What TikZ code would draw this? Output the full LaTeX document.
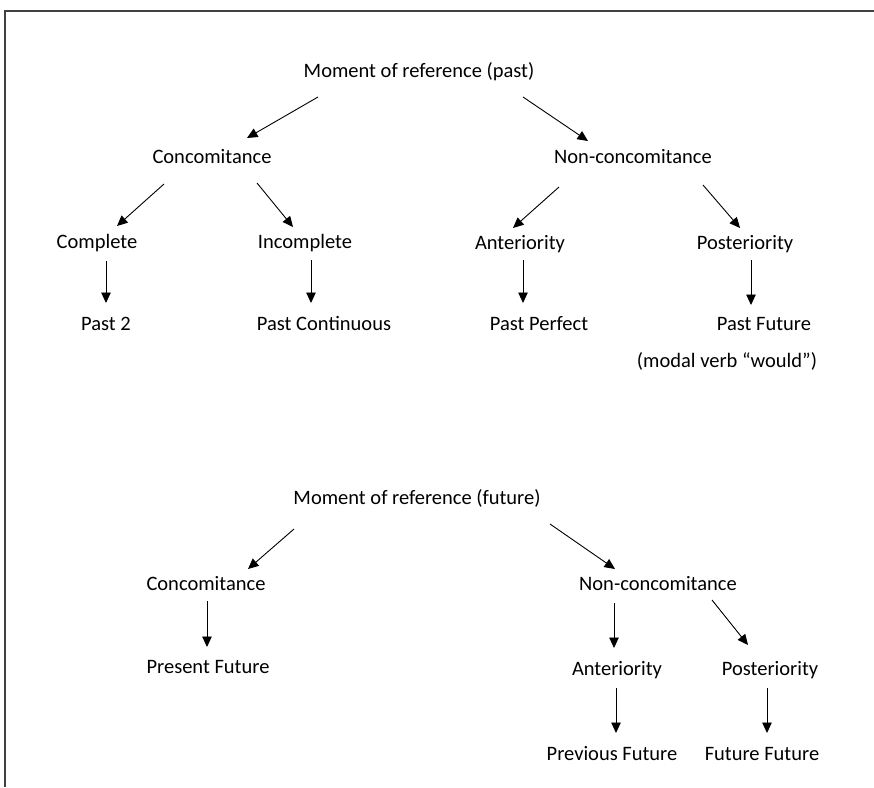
\documentclass[tikz,border=0pt]{standalone}
\usepackage{fontspec}
\setmainfont{Carlito}
\usetikzlibrary{arrows.meta}
\begin{document}
\begin{tikzpicture}[x=1pt,y=-1pt,
  lbl/.style={inner sep=0pt,text height=13.3pt,text depth=0pt,font=\fontsize{20.5}{24}\selectfont,text=black},
  arr/.style={line width=0.9pt,-{Triangle[length=10.5pt,width=9.5pt]}},
  frameline/.style={line width=1.6pt,draw=black!75}]
\useasboundingbox (0,0) rectangle (874,787);
\draw[frameline] (5,787) -- (5,11) -- (874,11);
% top tree
\node[lbl] (m1) at (419,71) {Moment of reference (past)};
\node[lbl] (conc1) at (212,157) {Concomitance};
\node[lbl] (nc1) at (633,157) {Non-concomitance};
\node[lbl] (comp) at (97,242) {Complete};
\node[lbl] (incomp) at (305,242) {Incomplete};
\node[lbl] (ant1) at (520,243) {Anteriority};
\node[lbl] (post1) at (745,243) {Posteriority};
\node[lbl] (past2) at (106,324) {Past 2};
\node[lbl] (pastcont) at (324,324) {Past Continuous};
\node[lbl] (pastperf) at (539,324) {Past Perfect};
\node[lbl] (pastfut) at (764,324) {Past Future};
\node[lbl] (modal) at (727,361) {(modal verb “would”)};
\draw[arr] ([shift={(-101,26)}]m1.center) -- ([shift={(35,-19)}]conc1.center);
\draw[arr] ([shift={(104,26)}]m1.center) -- ([shift={(-45,-16)}]nc1.center);
\draw[arr] ([shift={(-48,27)}]conc1.center) -- ([shift={(20,-16)}]comp.center);
\draw[arr] ([shift={(45,26)}]conc1.center) -- ([shift={(-12,-15)}]incomp.center);
\draw[arr] ([shift={(9,19)}]comp.center) -- ([shift={(0,-21)}]past2.center);
\draw[arr] ([shift={(6,18)}]incomp.center) -- ([shift={(-13,-21)}]pastcont.center);
\draw[arr] ([shift={(-74,30)}]nc1.center) -- ([shift={(-7,-15)}]ant1.center);
\draw[arr] ([shift={(70,28)}]nc1.center) -- ([shift={(-5,-15)}]post1.center);
\draw[arr] ([shift={(3,17)}]ant1.center) -- ([shift={(-16,-21)}]pastperf.center);
\draw[arr] ([shift={(6,17)}]post1.center) -- ([shift={(-13,-19)}]pastfut.center);
% bottom tree
\node[lbl] (m2) at (417,498) {Moment of reference (future)};
\node[lbl] (conc2) at (206,584) {Concomitance};
\node[lbl] (nc2) at (658,584) {Non-concomitance};
\node[lbl] (presfut) at (208,667) {Present Future};
\node[lbl] (ant2) at (617,669) {Anteriority};
\node[lbl] (post2) at (770,669) {Posteriority};
\node[lbl] (prevfut) at (612,754) {Previous Future};
\node[lbl] (futfut) at (762,754) {Future Future};
\draw[arr] ([shift={(-123,31)}]m2.center) -- ([shift={(42,-15)}]conc2.center);
\draw[arr] ([shift={(133,26)}]m2.center) -- ([shift={(-43,-15)}]nc2.center);
\draw[arr] ([shift={(1,17)}]conc2.center) -- ([shift={(-1,-20)}]presfut.center);
\draw[arr] ([shift={(-44,19)}]nc2.center) -- ([shift={(-3,-21)}]ant2.center);
\draw[arr] ([shift={(54,16)}]nc2.center) -- ([shift={(-22,-24)}]post2.center);
\draw[arr] ([shift={(-1,19)}]ant2.center) -- ([shift={(4,-21)}]prevfut.center);
\draw[arr] ([shift={(-3,19)}]post2.center) -- ([shift={(5,-21)}]futfut.center);
\end{tikzpicture}
\end{document}
